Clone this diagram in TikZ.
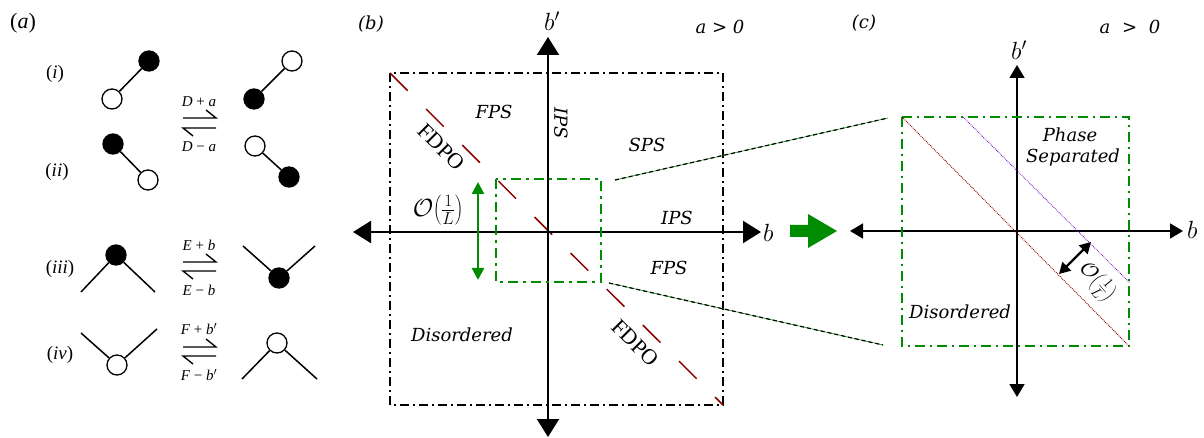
\documentclass[tikz,border=0pt]{standalone}
\usepackage{fontspec}
\setmainfont{DejaVu Serif}
\newfontfamily\timesf{Liberation Serif}
\usetikzlibrary{arrows.meta}
\definecolor{grn}{RGB}{0,140,0}
\definecolor{dred}{RGB}{140,0,0}
\definecolor{purp}{RGB}{120,0,200}
\tikzset{
  lbl/.style={font=\fontsize{18}{20}\selectfont\itshape, inner sep=0pt},
  plbl/.style={font=\fontsize{18}{20}\selectfont\itshape, inner sep=0pt},
  fdlbl/.style={font=\timesf\fontsize{22}{24}\selectfont, inner sep=0pt},
  axlbl/.style={font=\fontsize{23}{25}\selectfont, inner sep=0pt},
  tlbl/.style={font=\timesf\fontsize{19}{21}\selectfont, inner sep=0pt},
  rlbl/.style={font=\timesf\fontsize{15}{17}\selectfont, inner sep=0pt},
  opn/.style={circle, draw, line width=1.3pt, fill=white, minimum size=20pt, inner sep=0pt},
  fil/.style={circle, draw, line width=1.3pt, fill=black, minimum size=20pt, inner sep=0pt},
  bond/.style={line width=1.5pt},
  harp/.style={line width=1.4pt},
  axis/.style={line width=2pt, -{Triangle[length=18pt,width=22pt]}},
  axisc/.style={line width=1.6pt, -{Triangle[length=13pt,width=15pt]}},
  bbox/.style={line width=1.3pt, dash pattern=on 9pt off 4pt on 2pt off 4pt},
  gbox/.style={draw=grn, line width=2pt, dash pattern=on 10pt off 5pt on 3pt off 5pt},
  gboxc/.style={draw=grn, line width=1.8pt, dash pattern=on 10pt off 5pt on 2pt off 5pt},
}
\begin{document}
\begin{tikzpicture}[x=1pt,y=-1pt]
\useasboundingbox (0,0) rectangle (1204,438);

% ---------------- panel (a) ----------------
\node[font=\timesf\fontsize{22}{24}\selectfont, inner sep=0pt] (la) at (23,23) {(\textit{a})};
\node[tlbl] (li) at (55,74) {(\textit{i})};
\node[tlbl] (lii) at (57,172) {(\textit{ii})};
\node[tlbl] (liii) at (60,269) {(\textit{iii})};
\node[tlbl] (liv) at (60,355) {(\textit{iv})};

% (i)
\node[opn] (i1) at (112,99) {};
\node[fil] (i2) at (149,61) {};
\draw[bond] (i1) -- (i2);
\node[fil] (i3) at (254,99) {};
\node[opn] (i4) at (292,61) {};
\draw[bond] (i3) -- (i4);
% (ii)
\node[fil] (j1) at (113,144) {};
\node[opn] (j2) at (148,180) {};
\draw[bond] (j1) -- (j2);
\node[opn] (j3) at (255,146) {};
\node[fil] (j4) at (289,177) {};
\draw[bond] (j3) -- (j4);

% harpoons (i)/(ii)
\coordinate (h1a) at (183,118); \coordinate (h1b) at (216,118); \coordinate (h1c) at (206,110);
\coordinate (h2a) at (183,128); \coordinate (h2b) at (216,128); \coordinate (h2c) at (193,136);
\draw[harp] (h1a) -- (h1b) -- (h1c);
\draw[harp] (h2b) -- (h2a) -- (h2c);
\node[rlbl] (r1) at (199,102) {\textit{D} + \textit{a}};
\node[rlbl] (r2) at (199,147) {\textit{D} − \textit{a}};

% (iii)
\node[fil] (k1) at (116,255) {};
\coordinate (k1l) at (81,292); \coordinate (k1r) at (155,292);
\draw[bond] (k1l) -- (k1); \draw[bond] (k1) -- (k1r);
\node[fil] (k2) at (279,278) {};
\coordinate (k2l) at (243,246); \coordinate (k2r) at (315,246);
\draw[bond] (k2l) -- (k2); \draw[bond] (k2) -- (k2r);
\coordinate (h3a) at (183,262); \coordinate (h3b) at (216,262); \coordinate (h3c) at (206,254);
\coordinate (h4a) at (183,271); \coordinate (h4b) at (216,271); \coordinate (h4c) at (193,279);
\draw[harp] (h3a) -- (h3b) -- (h3c);
\draw[harp] (h4b) -- (h4a) -- (h4c);
\node[rlbl] (r3) at (199,245) {\textit{E} + \textit{b}};
\node[rlbl] (r4) at (199,290) {\textit{E} − \textit{b}};

% (iv)
\node[opn] (m1) at (117,365) {};
\coordinate (m1l) at (81,333); \coordinate (m1r) at (157,329);
\draw[bond] (m1l) -- (m1); \draw[bond] (m1) -- (m1r);
\node[opn] (m2) at (277,343) {};
\coordinate (m2l) at (242,379); \coordinate (m2r) at (317,379);
\draw[bond] (m2l) -- (m2); \draw[bond] (m2) -- (m2r);
\coordinate (h5a) at (183,347); \coordinate (h5b) at (216,347); \coordinate (h5c) at (206,339);
\coordinate (h6a) at (183,356); \coordinate (h6b) at (216,356); \coordinate (h6c) at (193,364);
\draw[harp] (h5a) -- (h5b) -- (h5c);
\draw[harp] (h6b) -- (h6a) -- (h6c);
\node[rlbl] (r5) at (199,329) {\textit{F} + \textit{b}$'$};
\node[rlbl] (r6) at (199,375) {\textit{F} − \textit{b}$'$};

% ---------------- panel (b) ----------------
\node[plbl] (lb) at (371,24) {(b)};
\node[plbl] (agt) at (720,27) {a > 0};
\coordinate (bTL) at (390,73); \coordinate (bBR) at (723,405);
\draw[bbox] (bTL) rectangle (bBR);
\draw[dred, line width=1.5pt, dash pattern=on 25pt off 26pt] (bTL) -- (bBR);

\coordinate (vt) at (548,437); \coordinate (vb) at (548,37);
\coordinate (vt2) at (548,232);
\draw[axis] (vt2) -- (vb);
\draw[axis] (vt2) -- (vt);
\coordinate (hl) at (353,232); \coordinate (hr) at (761,232);
\draw[axis] (vt2) -- (hl);
\draw[axis] (vt2) -- (hr);
\node[axlbl] (bpb) at (552,21) {$b'$};
\node[axlbl, anchor=west] (bb) at (763,233) {$b$};

\coordinate (gTL) at (496,179); \coordinate (gBR) at (601,282);
\draw[gbox] (gTL) rectangle (gBR);
\coordinate (ga) at (478,182); \coordinate (gb) at (478,280);
\draw[grn, line width=2.5pt, {Triangle[length=12pt,width=12pt]}-{Triangle[length=12pt,width=12pt]}] (ga) -- (gb);
\node[inner sep=0pt, font=\fontsize{24}{26}\selectfont] (ol) at (438,210) {$\mathcal{O}\!\left(\frac{1}{L}\right)$};

\node[lbl] (fps1) at (494,112) {FPS};
\node[lbl, rotate=-90] (ips1) at (561,123) {IPS};
\node[lbl] (sps) at (647,145) {SPS};
\node[lbl] (ips2) at (677,218) {IPS};
\node[lbl] (fps2) at (669,268) {FPS};
\node[lbl] (dis1) at (462,335) {Disordered};
\node[fdlbl, rotate=-45] (fd1) at (441,147) {FDPO};
\node[fdlbl, rotate=-45] (fd2) at (635,343) {FDPO};

% connectors to (c)
\coordinate (c1a) at (615,180); \coordinate (c1b) at (888,118);
\coordinate (c2a) at (609,283); \coordinate (c2b) at (883,345);
\draw[grn, line width=0.6pt] (c1a) -- (c1b);
\draw[grn, line width=0.6pt] (c2a) -- (c2b);
\draw[line width=1.2pt, dash pattern=on 4pt off 3pt] (c1a) -- (c1b);
\draw[line width=1.2pt, dash pattern=on 4pt off 3pt] (c2a) -- (c2b);

% block arrow
\fill[grn] (790,225) -- (808,225) -- (808,214) -- (837,231) -- (808,248) -- (808,237) -- (790,237) -- cycle;

% ---------------- panel (c) ----------------
\node[plbl] (lc) at (864,23) {(c)};
\node[plbl] (agt2) at (1130,27) {a\,\, >\,\, 0};
\coordinate (cc) at (1017,231);
\coordinate (cvt) at (1017,65); \coordinate (cvb) at (1017,397);
\coordinate (chl) at (850,231); \coordinate (chr) at (1183,231);
\draw[axisc] (cc) -- (cvt);
\draw[axisc] (cc) -- (cvb);
\draw[axisc] (cc) -- (chl);
\draw[axisc] (cc) -- (chr);
\node[axlbl] (cbp) at (1019,50) {$b'$};
\node[axlbl, anchor=west] (cb) at (1187,230) {$b$};

\coordinate (kTL) at (902,117); \coordinate (kBR) at (1129,346);
\draw[gboxc] (kTL) rectangle (kBR);
\draw[dred, line width=0.9pt, densely dotted] (kTL) -- (kBR);
\coordinate (pA) at (963,117); \coordinate (pB) at (1129,282);
\draw[purp, line width=0.8pt, densely dotted] (pA) -- (pB);
\coordinate (da) at (1059,274); \coordinate (db) at (1091,242);
\draw[line width=2.2pt, {Triangle[length=11pt,width=12pt]}-{Triangle[length=11pt,width=12pt]}] (da) -- (db);
\node[inner sep=0pt, rotate=-50, font=\fontsize{22}{24}\selectfont] (ol2) at (1097,282) {$\mathcal{O}\!\left(\frac{1}{L}\right)$};

\node[lbl] (ph1) at (1070,135) {Phase};
\node[lbl] (ph2) at (1073,158) {Separated};
\node[lbl] (dis2) at (960,312) {Disordered};
\end{tikzpicture}
\end{document}
